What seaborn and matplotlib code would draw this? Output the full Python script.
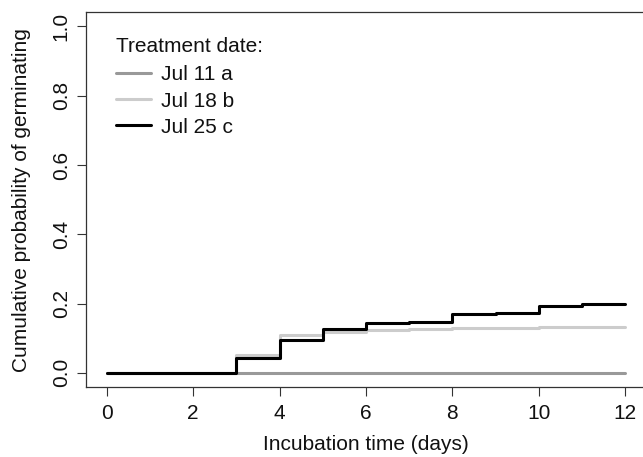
import matplotlib
matplotlib.use("Agg")
import matplotlib.pyplot as plt
import seaborn as sns
import pandas as pd
import numpy as np

days = [0, 1, 2, 3, 4, 5, 6, 7, 8, 9, 10, 11, 12]
jul11 = [0, 0, 0, 0, 0, 0, 0, 0, 0, 0, 0, 0, 0]
jul18 = [0, 0, 0, 0.051, 0.108, 0.118, 0.123, 0.126, 0.129, 0.130, 0.131, 0.131, 0.131]
jul25 = [0, 0, 0, 0.044, 0.096, 0.126, 0.143, 0.147, 0.169, 0.174, 0.192, 0.198, 0.198]
labels = ["Jul 11 a", "Jul 18 b", "Jul 25 c"]
colors = ["#999999", "#cccccc", "#000000"]
xticks = [0, 2, 4, 6, 8, 10, 12]
yticks = [0.0, 0.2, 0.4, 0.6, 0.8, 1.0]

df = pd.concat([
    pd.DataFrame({"day": days, "prob": vals, "treatment": lab})
    for vals, lab in zip([jul11, jul18, jul25], labels)
], ignore_index=True)

sns.set_style("white")
plt.rcParams['font.family'] = ['Liberation Sans', 'DejaVu Sans']

fig = plt.figure(figsize=(6.43, 4.57), dpi=100)
ax = fig.add_axes([86.0 / 643, 1 - 386.7 / 457, (645.9 - 86.0) / 643, (386.7 - 12.5) / 457])

sns.lineplot(data=df, x="day", y="prob", hue="treatment", hue_order=labels,
             palette=dict(zip(labels, colors)), drawstyle="steps-post",
             linewidth=2.2, estimator=None, ax=ax)

ax.set_xlim(-0.48, 12.48)
ax.set_ylim(-0.04, 1.04)
ax.set_xticks(xticks)
ax.set_xticklabels([str(t) for t in xticks])
ax.set_yticks(yticks)
ax.set_yticklabels([f"{t:.1f}" for t in yticks])
ax.tick_params(axis="both", direction="out", length=6.5, width=0.8, color="#333333",
               labelsize=15, labelcolor="#111111", pad=4.5, left=True, bottom=True)
ax.tick_params(axis="x", pad=6)
for lab in ax.get_yticklabels():
    lab.set_rotation(90)
    lab.set_va("center")
    lab.set_ha("right")

for s in ax.spines.values():
    s.set_visible(True)
    s.set_color("#333333")
    s.set_linewidth(0.9)

ax.set_xlabel("Incubation time (days)", fontsize=15, color="#111111", labelpad=8.5)
ax.set_ylabel("Cumulative probability of germinating", fontsize=15, color="#111111", labelpad=15)

handles, _ = ax.get_legend_handles_labels()
leg = ax.legend(handles=handles, labels=labels, title="Treatment date:", loc="upper left",
                bbox_to_anchor=(0.035, 0.963), frameon=False, fontsize=15, title_fontsize=15,
                handlelength=1.7, handletextpad=0.45, labelspacing=0.34, borderpad=0,
                alignment="left")
leg._legend_box.sep = 7
for t in leg.get_texts():
    t.set_color("#111111")
leg.get_title().set_color("#111111")

fig.savefig("out.png", dpi=100)
